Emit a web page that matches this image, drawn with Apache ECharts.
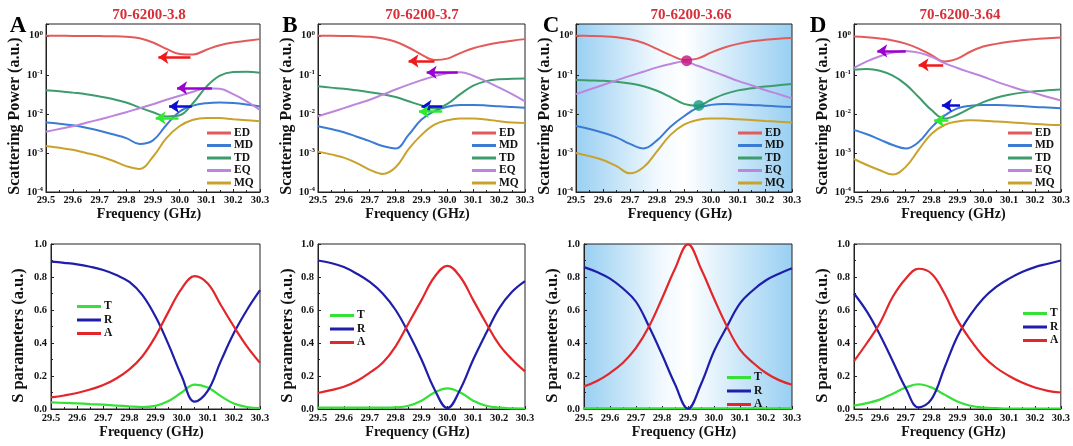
<!DOCTYPE html>
<html>
<head>
<meta charset="utf-8">
<script src="https://cdn.jsdelivr.net/npm/echarts@6/dist/echarts.min.js"></script>
<style>
  html, body { margin: 0; padding: 0; background: #ffffff; }
  #chart { width: 1073px; height: 446px; }
</style>
</head>
<body>
<div id="chart"></div>
<script>
// ---- data -------------------------------------------------------------
const FREQ = [29.5, 29.55, 29.6, 29.65, 29.7, 29.75, 29.8, 29.85, 29.9, 29.95,
              30.0, 30.05, 30.1, 30.15, 30.2, 30.25, 30.3];
const X_TICKS = [29.5, 29.6, 29.7, 29.8, 29.9, 30.0, 30.1, 30.2, 30.3];
const LETTERS = ['A', 'B', 'C', 'D'];
const TITLES = ['70-6200-3.8', '70-6200-3.7', '70-6200-3.66', '70-6200-3.64'];
const SCAT_NAMES = ['ED', 'MD', 'TD', 'EQ', 'MQ'];
const S_NAMES = ['T', 'R', 'A'];

// multipole scattering power, structure 3.8
const ED_38 = [1.0, 1.0, 0.99, 0.99, 0.98, 0.97, 0.94, 0.86, 0.67, 0.46, 0.34, 0.33, 0.44, 0.57, 0.67, 0.74, 0.82];
const MD_38 = [0.006, 0.0056, 0.0051, 0.0044, 0.0037, 0.003, 0.0024, 0.0017, 0.0021, 0.0052, 0.0115, 0.0163, 0.0188, 0.0195, 0.019, 0.0175, 0.0155];
const TD_38 = [0.04, 0.038, 0.035, 0.032, 0.028, 0.024, 0.0195, 0.0145, 0.011, 0.0086, 0.0092, 0.019, 0.05, 0.095, 0.118, 0.12, 0.113];
const EQ_38 = [0.0035, 0.0041, 0.0048, 0.0059, 0.0072, 0.0089, 0.011, 0.014, 0.0177, 0.023, 0.029, 0.037, 0.045, 0.044, 0.032, 0.021, 0.0126];
const MQ_38 = [0.0015, 0.00135, 0.0012, 0.001, 0.00082, 0.00063, 0.00046, 0.00039, 0.0008, 0.0024, 0.0049, 0.0071, 0.0079, 0.0078, 0.0073, 0.0069, 0.0065];

// structure 3.7
const ED_37 = [1.0, 1.0, 0.99, 0.97, 0.94, 0.85, 0.7, 0.5, 0.33, 0.24, 0.26, 0.36, 0.48, 0.58, 0.67, 0.75, 0.82];
const MD_37 = [0.0048, 0.0041, 0.0034, 0.0026, 0.002, 0.0015, 0.0013, 0.0029, 0.0072, 0.0118, 0.0152, 0.0168, 0.017, 0.0165, 0.0156, 0.015, 0.0144];
const TD_37 = [0.051, 0.047, 0.044, 0.04, 0.036, 0.032, 0.027, 0.021, 0.0165, 0.0137, 0.018, 0.032, 0.053, 0.069, 0.077, 0.079, 0.08];
const EQ_37 = [0.0087, 0.011, 0.014, 0.018, 0.023, 0.031, 0.042, 0.056, 0.073, 0.092, 0.11, 0.117, 0.095, 0.068, 0.047, 0.032, 0.021];
const MQ_37 = [0.00108, 0.00092, 0.00076, 0.00055, 0.00037, 0.00029, 0.00043, 0.00125, 0.0029, 0.0053, 0.0069, 0.0076, 0.0076, 0.0072, 0.0065, 0.006, 0.0058];

// structure 3.66
const ED_366 = [1.0, 0.99, 0.97, 0.92, 0.81, 0.65, 0.46, 0.32, 0.24, 0.26, 0.37, 0.5, 0.62, 0.72, 0.79, 0.84, 0.87];
const MD_366 = [0.0049, 0.0041, 0.0033, 0.0025, 0.0017, 0.0013, 0.0021, 0.0047, 0.0087, 0.0142, 0.017, 0.0178, 0.0175, 0.017, 0.0162, 0.0155, 0.0149];
const TD_366 = [0.074, 0.072, 0.07, 0.066, 0.06, 0.051, 0.039, 0.027, 0.018, 0.0162, 0.023, 0.032, 0.04, 0.045, 0.05, 0.054, 0.058];
const EQ_366 = [0.032, 0.042, 0.055, 0.072, 0.094, 0.12, 0.155, 0.19, 0.22, 0.17, 0.127, 0.095, 0.07, 0.054, 0.041, 0.032, 0.025];
const MQ_366 = [0.001, 0.00083, 0.00066, 0.00046, 0.0003, 0.00043, 0.0011, 0.0029, 0.0053, 0.007, 0.0076, 0.0076, 0.0073, 0.007, 0.0066, 0.0063, 0.006];

// structure 3.64
const ED_364 = [0.96, 0.92, 0.85, 0.76, 0.63, 0.47, 0.32, 0.22, 0.26, 0.39, 0.53, 0.62, 0.7, 0.77, 0.82, 0.86, 0.9];
const MD_364 = [0.0039, 0.003, 0.0022, 0.0016, 0.0013, 0.0019, 0.0045, 0.009, 0.0138, 0.0162, 0.017, 0.017, 0.0165, 0.0158, 0.015, 0.0145, 0.014];
const TD_364 = [0.135, 0.14, 0.127, 0.095, 0.057, 0.027, 0.0125, 0.0076, 0.0095, 0.014, 0.02, 0.026, 0.031, 0.035, 0.038, 0.04, 0.042];
const EQ_364 = [0.15, 0.22, 0.3, 0.37, 0.41, 0.37, 0.29, 0.2, 0.15, 0.115, 0.089, 0.067, 0.052, 0.041, 0.034, 0.027, 0.022];
const MQ_364 = [0.0007, 0.00049, 0.00036, 0.00028, 0.00044, 0.0012, 0.0031, 0.0052, 0.0064, 0.0069, 0.0067, 0.0064, 0.0061, 0.0058, 0.0055, 0.0053, 0.0052];

// S parameters (transmission, reflection, absorption)
const T_38 = [0.04, 0.037, 0.034, 0.03, 0.026, 0.021, 0.016, 0.012, 0.019, 0.048, 0.1, 0.148, 0.13, 0.078, 0.033, 0.012, 0.006];
const R_38 = [0.893, 0.886, 0.877, 0.862, 0.842, 0.812, 0.77, 0.69, 0.56, 0.39, 0.2, 0.045, 0.11, 0.29, 0.46, 0.6, 0.72];
const A_38 = [0.07, 0.082, 0.097, 0.118, 0.145, 0.185, 0.24, 0.32, 0.44, 0.59, 0.73, 0.805, 0.76, 0.63, 0.5, 0.38, 0.28];

const T_37 = [0.008, 0.008, 0.008, 0.008, 0.008, 0.008, 0.01, 0.02, 0.05, 0.1, 0.125, 0.1, 0.05, 0.02, 0.008, 0.004, 0.003];
const R_37 = [0.9, 0.885, 0.86, 0.82, 0.77, 0.7, 0.6, 0.46, 0.3, 0.12, 0.005, 0.12, 0.3, 0.46, 0.61, 0.71, 0.775];
const A_37 = [0.097, 0.114, 0.135, 0.17, 0.22, 0.28, 0.38, 0.52, 0.66, 0.8, 0.868, 0.8, 0.66, 0.52, 0.39, 0.3, 0.228];

const T_366 = [0.004, 0.004, 0.004, 0.004, 0.004, 0.004, 0.004, 0.004, 0.004, 0.004, 0.004, 0.004, 0.004, 0.004, 0.004, 0.004, 0.004];
const R_366 = [0.86, 0.83, 0.79, 0.73, 0.65, 0.5, 0.33, 0.15, 0.002, 0.15, 0.35, 0.5, 0.64, 0.72, 0.78, 0.82, 0.853];
const A_366 = [0.137, 0.17, 0.218, 0.28, 0.37, 0.5, 0.67, 0.85, 0.998, 0.85, 0.67, 0.5, 0.36, 0.28, 0.218, 0.175, 0.147];

const T_364 = [0.02, 0.036, 0.057, 0.093, 0.13, 0.15, 0.13, 0.087, 0.046, 0.02, 0.008, 0.005, 0.003, 0.003, 0.003, 0.003, 0.003];
const R_364 = [0.7, 0.59, 0.45, 0.29, 0.127, 0.01, 0.06, 0.25, 0.44, 0.57, 0.67, 0.74, 0.79, 0.83, 0.86, 0.88, 0.9];
const A_364 = [0.29, 0.4, 0.52, 0.68, 0.79, 0.85, 0.82, 0.7, 0.54, 0.42, 0.32, 0.25, 0.2, 0.16, 0.13, 0.11, 0.1];

// frequency-shift arrows: [multipole, start GHz, end GHz, power]
const ARROWS_38 = [['ED', 30.04, 29.92, 0.28], ['EQ', 30.12, 29.99, 0.046], ['MD', 30.045, 29.96, 0.0155], ['TD', 29.995, 29.91, 0.0079]];
const ARROWS_37 = [['ED', 29.95, 29.85, 0.226], ['EQ', 30.04, 29.92, 0.115], ['MD', 29.98, 29.9, 0.0155], ['TD', 29.98, 29.89, 0.0114]];
const ARROWS_364 = [['ED', 29.845, 29.75, 0.18], ['EQ', 29.70, 29.59, 0.41], ['MD', 29.91, 29.84, 0.0165], ['TD', 29.865, 29.81, 0.0067]];
// degenerate points of structure 3.66: [multipole, GHz, power]
const CROSSINGS_366 = [['EQ', 29.91, 0.23], ['TD', 29.955, 0.0165]];

// ---- styling ----------------------------------------------------------
const FONT = '"Liberation Serif", "Times New Roman", serif';
const LINE_COLORS = { ED: '#e35a5a', MD: '#3a7bd3', TD: '#3c9c6c', EQ: '#bd86de', MQ: '#c9a22c',
                      T: '#36e036', R: '#1e1eaa', A: '#e2262a' };
const ARROW_COLORS = { ED: '#f01818', EQ: '#9a00cf', MD: '#0b0bd6', TD: '#2cec2c' };
const DOT_COLORS = { EQ: '#c4117f', TD: '#16977e' };

const TOP_GRIDS = [
  { left: 46, width: 214, nameGap: 19, legendLeft: 207, titleX: 149 },
  { left: 318, width: 207, nameGap: 20, legendLeft: 472, titleX: 422 },
  { left: 576, width: 216, nameGap: 14, legendLeft: 738, titleX: 691 },
  { left: 854, width: 207, nameGap: 21, legendLeft: 1008, titleX: 960 }
];
const BOTTOM_GRIDS = [
  { left: 51, width: 209, nameGap: 24, legendLeft: 77, legendTop: 300 },
  { left: 318, width: 207, nameGap: 22, legendLeft: 330, legendTop: 309 },
  { left: 584, width: 208, nameGap: 23, legendLeft: 727, legendTop: 371 },
  { left: 854, width: 207, nameGap: 23, legendLeft: 1023, legendTop: 307 }
];
const TOP_Y = 24, TOP_H = 168, BOT_Y = 244, BOT_H = 165;

const SCAT_DATA = [
  [ED_38, MD_38, TD_38, EQ_38, MQ_38],
  [ED_37, MD_37, TD_37, EQ_37, MQ_37],
  [ED_366, MD_366, TD_366, EQ_366, MQ_366],
  [ED_364, MD_364, TD_364, EQ_364, MQ_364]
];
const S_DATA = [
  [T_38, R_38, A_38],
  [T_37, R_37, A_37],
  [T_366, R_366, A_366],
  [T_364, R_364, A_364]
];
const ARROWS = [ARROWS_38, ARROWS_37, null, ARROWS_364];

// sky-blue shading used behind the degenerate (3.66) panels
function blueShade() {
  return new echarts.graphic.LinearGradient(0, 0, 1, 0, [
    { offset: 0, color: '#98cff2' },
    { offset: 0.38, color: '#f2f9fe' },
    { offset: 0.5, color: '#ffffff' },
    { offset: 1, color: '#98cff2' }
  ]);
}

const grids = [], xAxes = [], yAxes = [], series = [], legends = [], graphics = [];

const axisLineStyle = { show: true, lineStyle: { color: '#222', width: 1 } };
const tickLabel = { fontFamily: FONT, fontWeight: 'bold', fontSize: 10.5, color: '#111' };
const curve = { smooth: 0.4, showSymbol: false };

function addXAxis(gi, labelMargin, nameGap) {
  xAxes.push({
    type: 'value', gridIndex: gi, min: 29.5, max: 30.3, interval: 0.1,
    axisLine: axisLineStyle,
    axisTick: { inside: true, length: 3, lineStyle: { color: '#222' } },
    minorTick: { show: true, splitNumber: 2, length: 2, lineStyle: { color: '#222' } },
    splitLine: { show: false },
    axisLabel: Object.assign({ margin: labelMargin, showMinLabel: true, showMaxLabel: true,
      formatter: v => X_TICKS.some(t => Math.abs(t - v) < 1e-6) ? v.toFixed(1) : '' }, tickLabel),
    name: 'Frequency (GHz)', nameLocation: 'middle', nameGap: nameGap,
    nameTextStyle: { fontFamily: FONT, fontWeight: 'bold', fontSize: 14, color: '#111',
      verticalAlign: 'top', padding: [0, 8, 0, 0] }
  });
}

// ---- scattering power panels (log scale) ------------------------------
TOP_GRIDS.forEach((g, i) => {
  const gi = i;
  grids.push({ left: g.left, top: TOP_Y, width: g.width, height: TOP_H, show: true,
    borderColor: '#222', borderWidth: 1,
    backgroundColor: i === 2 ? blueShade() : 'transparent' });
  addXAxis(gi, 3, 7);
  yAxes.push({
    type: 'log', gridIndex: gi, min: 1e-4, max: 2, logBase: 10,
    axisLine: axisLineStyle,
    axisTick: { inside: true, length: 3, lineStyle: { color: '#222' } },
    splitLine: { show: false },
    axisLabel: Object.assign({ margin: 3,
      formatter: v => {
        const e = Math.log10(v);
        if (Math.abs(e - Math.round(e)) > 1e-6) return '';
        return '10{s|' + Math.round(e) + '}';
      },
      rich: { s: { fontFamily: FONT, fontWeight: 'bold', fontSize: 7, verticalAlign: 'top', color: '#111', padding: [0, 0, 5, 0] } }
    }, tickLabel),
    name: 'Scattering Power (a.u.)', nameLocation: 'middle', nameGap: g.nameGap,
    nameTextStyle: { fontFamily: FONT, fontWeight: 'bold', fontSize: 16, color: '#111', padding: [0, 16, 0, 0] }
  });
  SCAT_NAMES.forEach((n, k) => {
    series.push(Object.assign({
      type: 'line', name: n, xAxisIndex: gi, yAxisIndex: gi,
      data: FREQ.map((f, j) => [f, SCAT_DATA[i][k][j]]),
      color: LINE_COLORS[n], lineStyle: { width: 2, color: LINE_COLORS[n] }, z: 3
    }, curve));
  });
  if (ARROWS[i]) {
    series.push({
      type: 'line', name: 'shift', xAxisIndex: gi, yAxisIndex: gi, data: [],
      showSymbol: false, silent: true,
      markLine: {
        silent: true, symbol: ['none', 'arrow'], symbolSize: 10, animation: false,
        label: { show: false },
        data: ARROWS[i].map(a => [
          { coord: [a[1], a[3]], lineStyle: { color: ARROW_COLORS[a[0]], width: 2.5, type: 'solid' },
            itemStyle: { color: ARROW_COLORS[a[0]] } },
          { coord: [a[2], a[3]] }
        ])
      }, z: 5
    });
  }
  if (i === 2) {
    series.push({
      type: 'scatter', name: 'crossing', xAxisIndex: gi, yAxisIndex: gi,
      data: CROSSINGS_366.map(c => ({ value: [c[1], c[2]], itemStyle: { color: DOT_COLORS[c[0]] } })),
      symbolSize: 11, z: 6, silent: true
    });
  }
  legends.push({
    orient: 'vertical', left: g.legendLeft, top: 127, padding: 0, itemGap: 0.5,
    itemWidth: 24, itemHeight: 3, icon: 'rect', selectedMode: false,
    data: SCAT_NAMES,
    textStyle: { fontFamily: FONT, fontWeight: 'bold', fontSize: 11.5, lineHeight: 12, color: '#111', padding: [0, 0, 0, -2] }
  });
  graphics.push({ type: 'text', x: g.titleX, y: 15,
    style: { text: TITLES[i], font: 'bold 15px ' + FONT, fill: '#d62f3a', align: 'center', verticalAlign: 'middle' } });
});

// ---- S-parameter panels (linear scale) --------------------------------
BOTTOM_GRIDS.forEach((g, i) => {
  const gi = 4 + i;
  grids.push({ left: g.left, top: BOT_Y, width: g.width, height: BOT_H, show: true,
    borderColor: '#222', borderWidth: 1,
    backgroundColor: i === 2 ? blueShade() : 'transparent' });
  addXAxis(gi, 4, 14);
  yAxes.push({
    type: 'value', gridIndex: gi, min: 0, max: 1, interval: 0.2,
    axisLine: axisLineStyle,
    axisTick: { inside: true, length: 3, lineStyle: { color: '#222' } },
    minorTick: { show: true, splitNumber: 2, length: 2, lineStyle: { color: '#222' } },
    splitLine: { show: false },
    axisLabel: Object.assign({ margin: 4, formatter: v => v.toFixed(1) }, tickLabel),
    name: 'S parameters (a.u.)', nameLocation: 'middle', nameGap: g.nameGap,
    nameTextStyle: { fontFamily: FONT, fontWeight: 'bold', fontSize: 16.5, color: '#111', padding: [0, 18, 0, 0] }
  });
  S_NAMES.forEach((n, k) => {
    series.push(Object.assign({
      type: 'line', name: n, xAxisIndex: gi, yAxisIndex: gi,
      data: FREQ.map((f, j) => [f, S_DATA[i][k][j]]),
      color: LINE_COLORS[n], lineStyle: { width: 2.2, color: LINE_COLORS[n] }, z: 3
    }, curve));
  });
  legends.push({
    orient: 'vertical', left: g.legendLeft, top: g.legendTop, padding: 0, itemGap: 0.5,
    itemWidth: 24, itemHeight: 3, icon: 'rect', selectedMode: false,
    data: S_NAMES,
    textStyle: { fontFamily: FONT, fontWeight: 'bold', fontSize: 11.5, lineHeight: 13, color: '#111', padding: [0, 0, 0, -2] }
  });
});

// panel letters
[18, 290, 551, 818].forEach((x, i) => {
  graphics.push({ type: 'text', x: x, y: 26,
    style: { text: LETTERS[i], font: 'bold 23px ' + FONT, fill: '#000', align: 'center', verticalAlign: 'middle' } });
});

const chart = echarts.init(document.getElementById('chart'), null, { renderer: 'canvas' });
chart.setOption({
  animation: false,
  backgroundColor: '#ffffff',
  grid: grids,
  xAxis: xAxes,
  yAxis: yAxes,
  legend: legends,
  series: series,
  graphic: graphics
});
</script>
</body>
</html>
